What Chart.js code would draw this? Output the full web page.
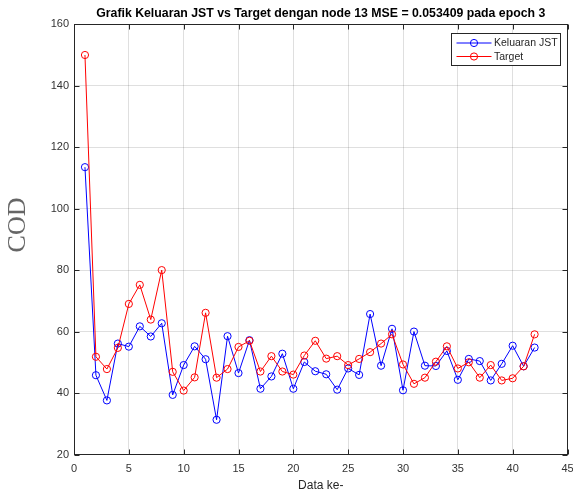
<!DOCTYPE html>
<html>
<head>
<meta charset="utf-8">
<script src="https://cdn.jsdelivr.net/npm/chart.js@4"></script>
<style>
  html, body { margin: 0; padding: 0; background: #fff; }
  #chart { display: block; }
</style>
</head>
<body>
<canvas id="chart" width="573" height="492"></canvas>
<script>
const dataKe = [1, 2, 3, 4, 5, 6, 7, 8, 9, 10, 11, 12, 13, 14, 15, 16, 17, 18, 19, 20, 21,
  22, 23, 24, 25, 26, 27, 28, 29, 30, 31, 32, 33, 34, 35, 36, 37, 38, 39, 40, 41, 42];

const keluaranJST = [113.5, 45.8, 37.6, 56.1, 55.1, 61.7, 58.4, 62.7, 39.4, 49.1, 55.2,
  51, 31.3, 58.5, 46.5, 57.2, 41.4, 45.4, 52.8, 41.4, 50.1, 47.1, 46.1, 41.1, 48, 45.9,
  65.7, 48.9, 60.9, 40.9, 60, 48.9, 48.8, 53.7, 44.3, 51.1, 50.4, 44.1, 49.5, 55.4, 48.7, 54.8];

const target = [150, 51.8, 47.8, 54.7, 69, 75.2, 63.9, 80, 46.9, 40.8, 45.1, 66.1, 45,
  47.8, 55, 57, 47, 52, 47, 46, 52.2, 57, 51.2, 52, 49.1, 51.1, 53.3, 56.1, 59.1, 49.3,
  43, 45, 50.2, 55.2, 48, 50, 45, 49.1, 44.1, 44.8, 48.7, 59.1];

const xTicks = [0, 5, 10, 15, 20, 25, 30, 35, 40, 45];
const yTicks = [20, 40, 60, 80, 100, 120, 140, 160];

const axisColor = '#262626';
const gridColor = 'rgba(38,38,38,0.15)';

const toPoints = (ys) => ys.map((y, i) => ({ x: dataKe[i], y }));

// frame with inward ticks, boxed legend and the COD label (MATLAB look)
const matlabAxes = {
  id: 'matlabAxes',
  afterDatasetsDraw(chart) {
    const { ctx, chartArea: a, scales } = chart;
    const L = Math.round(a.left) + 0.5, R = Math.round(a.right) - 0.5;
    const T = Math.round(a.top) + 0.5, B = Math.round(a.bottom) - 0.5;
    ctx.save();
    ctx.strokeStyle = axisColor;
    ctx.lineWidth = 1;
    ctx.strokeRect(L, T, R - L, B - T);

    ctx.beginPath();
    xTicks.forEach(v => {
      const px = Math.round(scales.x.getPixelForValue(v)) + 0.5;
      ctx.moveTo(px, B); ctx.lineTo(px, B - 5);
      ctx.moveTo(px, T); ctx.lineTo(px, T + 5);
    });
    yTicks.forEach(v => {
      const py = Math.round(scales.y.getPixelForValue(v)) + 0.5;
      ctx.moveTo(L, py); ctx.lineTo(L + 5, py);
      ctx.moveTo(R, py); ctx.lineTo(R - 5, py);
    });
    ctx.stroke();

    // legend
    const lx = 451.5, ly = 33.5, lw = 109, lh = 32;
    ctx.fillStyle = '#fff';
    ctx.fillRect(lx, ly, lw, lh);
    ctx.strokeRect(lx, ly, lw, lh);
    ctx.font = '10.5px "Liberation Sans", Arial, sans-serif';
    ctx.textBaseline = 'middle';
    chart.data.datasets.forEach((ds, i) => {
      const cy = ly + 9.5 + i * 13.5;
      ctx.strokeStyle = ds.borderColor;
      ctx.beginPath();
      ctx.moveTo(lx + 5, cy); ctx.lineTo(lx + 40, cy);
      ctx.stroke();
      ctx.beginPath();
      ctx.arc(lx + 22.5, cy, 3.6, 0, Math.PI * 2);
      ctx.stroke();
      ctx.fillStyle = axisColor;
      ctx.fillText(ds.label, lx + 42.5, cy + 0.5);
    });

    // y axis label
    ctx.translate(18, 225);
    ctx.rotate(-Math.PI / 2);
    ctx.font = '26px "Liberation Serif", "Times New Roman", serif';
    ctx.fillStyle = '#666666';
    ctx.textAlign = 'center';
    ctx.textBaseline = 'middle';
    ctx.fillText('COD', 0, 0);
    ctx.restore();
  }
};

const ctx = document.getElementById('chart');

new Chart(ctx, {
  type: 'line',
  data: {
    datasets: [
      {
        label: 'Keluaran JST',
        data: toPoints(keluaranJST),
        borderColor: '#0000ff',
        borderWidth: 1,
        pointRadius: 3.6,
        pointBorderWidth: 1,
        pointBackgroundColor: 'rgba(0,0,0,0)',
        pointBorderColor: '#0000ff',
        tension: 0,
        order: 1
      },
      {
        label: 'Target',
        data: toPoints(target),
        borderColor: '#ff0000',
        borderWidth: 1,
        pointRadius: 3.6,
        pointBorderWidth: 1,
        pointBackgroundColor: 'rgba(0,0,0,0)',
        pointBorderColor: '#ff0000',
        tension: 0,
        order: 0
      }
    ]
  },
  options: {
    responsive: false,
    animation: false,
    devicePixelRatio: 1,
    layout: { padding: { left: 0, right: 5.5, top: 0, bottom: 0 } },
    plugins: {
      legend: { display: false },
      tooltip: { enabled: false },
      title: {
        display: true,
        fullSize: false,
        text: 'Grafik Keluaran JST vs Target dengan node 13 MSE = 0.053409 pada epoch 3',
        color: '#000',
        font: { family: '"Liberation Sans", Arial, sans-serif', size: 12.3, weight: 'bold' },
        padding: { top: 6, bottom: 3.5 }
      }
    },
    scales: {
      x: {
        type: 'linear',
        min: 0,
        max: 45,
        afterBuildTicks: (s) => { s.ticks = xTicks.map(v => ({ value: v })); },
        afterFit: (s) => { s.height = 37.5; s.paddingLeft = 0; s.paddingRight = 0; },
        grid: { color: gridColor, drawTicks: false },
        border: { display: false },
        ticks: {
          color: '#333',
          padding: 8,
          maxRotation: 0,
          font: { family: '"Liberation Sans", Arial, sans-serif', size: 11 }
        },
        title: {
          display: true,
          text: 'Data ke-',
          color: '#262626',
          font: { family: '"Liberation Sans", Arial, sans-serif', size: 12, lineHeight: 1 },
          padding: { top: 0, bottom: 0 }
        }
      },
      y: {
        type: 'linear',
        min: 20,
        max: 160,
        afterBuildTicks: (s) => { s.ticks = yTicks.map(v => ({ value: v })); },
        afterFit: (s) => { s.width = 74; s.paddingTop = 0; s.paddingBottom = 0; },
        grid: { color: gridColor, drawTicks: false },
        border: { display: false },
        ticks: {
          color: '#333',
          padding: 5,
          font: { family: '"Liberation Sans", Arial, sans-serif', size: 11 }
        }
      }
    }
  },
  plugins: [matlabAxes]
});
</script>
</body>
</html>
